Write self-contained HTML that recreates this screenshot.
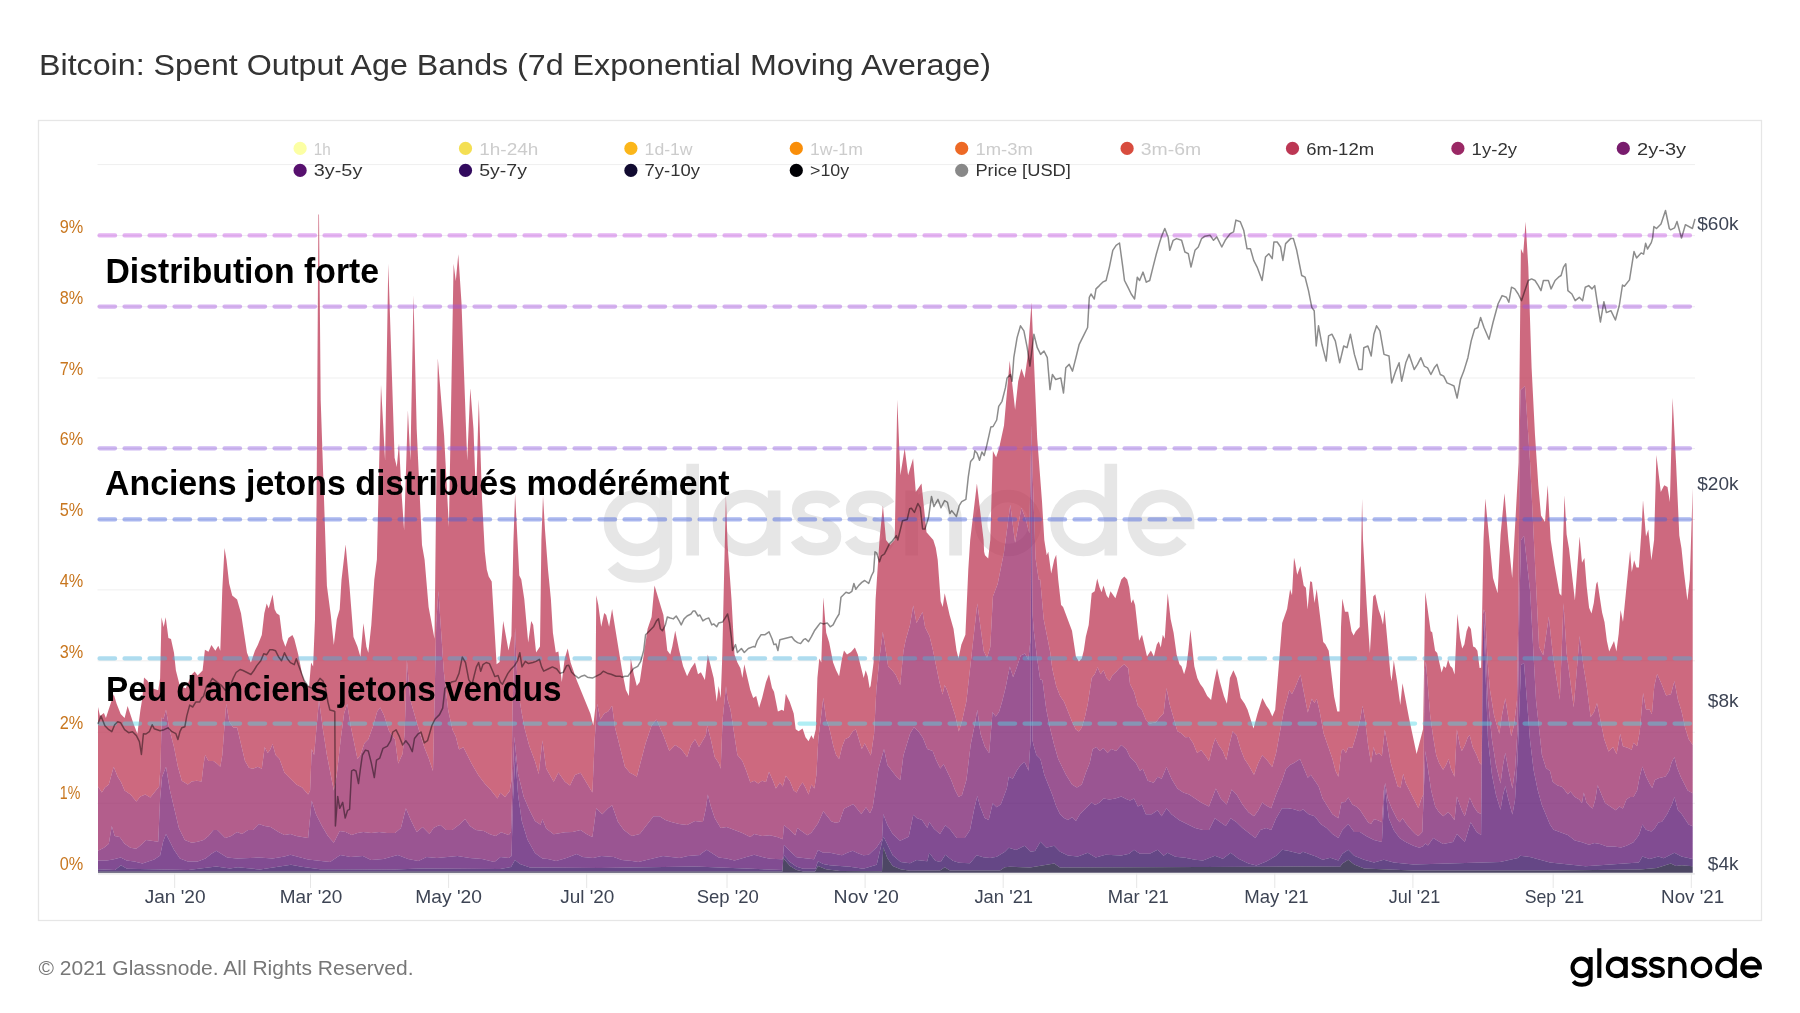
<!DOCTYPE html>
<html><head><meta charset="utf-8"><title>Bitcoin: Spent Output Age Bands</title>
<style>
html,body{margin:0;padding:0;background:#fff;}
body{width:1800px;height:1013px;overflow:hidden;position:relative;font-family:"Liberation Sans",sans-serif;}
svg{position:absolute;left:0;top:0;will-change:transform;}
</style></head><body>
<svg width="1800" height="1013" viewBox="0 0 1800 1013" font-family="Liberation Sans, sans-serif">
<text x="39" y="74.8" font-size="29.3" fill="#333" textLength="952" lengthAdjust="spacingAndGlyphs">Bitcoin: Spent Output Age Bands (7d Exponential Moving Average)</text>
<rect x="38.5" y="120.5" width="1723" height="800" fill="#fff" stroke="#e6e6e6" stroke-width="1.3"/>
<g stroke="#efefef" stroke-width="1"><line x1="97.5" x2="1695" y1="803.3" y2="803.3"/><line x1="97.5" x2="1695" y1="732.3" y2="732.3"/><line x1="97.5" x2="1695" y1="660.8" y2="660.8"/><line x1="97.5" x2="1695" y1="589.9" y2="589.9"/><line x1="97.5" x2="1695" y1="519.5" y2="519.5"/><line x1="97.5" x2="1695" y1="448.5" y2="448.5"/><line x1="97.5" x2="1695" y1="378.0" y2="378.0"/><line x1="97.5" x2="1695" y1="306.7" y2="306.7"/><line x1="97.5" x2="1695" y1="235.6" y2="235.6"/><line x1="97.5" x2="1695" y1="164.6" y2="164.6"/></g>
<line x1="98" x2="1695" y1="873.9" y2="873.9" stroke="#e6e6e6" stroke-width="1.3"/>
<g stroke="#e6e6e6" stroke-width="1"><line x1="174.7" x2="174.7" y1="873" y2="888"/><line x1="310.5" x2="310.5" y1="873" y2="888"/><line x1="448.6" x2="448.6" y1="873" y2="888"/><line x1="586.7" x2="586.7" y1="873" y2="888"/><line x1="727.0" x2="727.0" y1="873" y2="888"/><line x1="865.1" x2="865.1" y1="873" y2="888"/><line x1="1003.2" x2="1003.2" y1="873" y2="888"/><line x1="1136.7" x2="1136.7" y1="873" y2="888"/><line x1="1274.8" x2="1274.8" y1="873" y2="888"/><line x1="1412.9" x2="1412.9" y1="873" y2="888"/><line x1="1553.2" x2="1553.2" y1="873" y2="888"/><line x1="1691.3" x2="1691.3" y1="873" y2="888"/></g>
<defs><g id="gnlogo" fill="none" stroke-width="4.1">
<circle cx="1581.3" cy="967.4" r="8.75"/><path d="M1590.6,956.9 V978.5 C1590.6,983 1586.5,984.7 1582,984.7 C1578,984.7 1575.2,983.6 1573.4,981.2"/>
<path d="M1599.3,948.2 V977.9"/>
<circle cx="1616.6" cy="967.4" r="8.75"/><path d="M1625.7,956.9 V977.9"/>
<path d="M1645.4,961.6 C1644.2,959.6 1641.9,958.9 1639.4,958.9 C1635.9,958.9 1633.5,960.5 1633.5,963.1 C1633.5,966.1 1636.6,966.7 1639.4,967.3 C1642.7,968 1645.4,969 1645.4,971.8 C1645.4,974.6 1643,975.9 1639.4,975.9 C1636.5,975.9 1634.2,974.8 1632.9,972.6"/>
<path d="M1662.9,961.6 C1661.7,959.6 1659.4,958.9 1656.9,958.9 C1653.4,958.9 1651,960.5 1651,963.1 C1651,966.1 1654.1,966.7 1656.9,967.3 C1660.2,968 1662.9,969 1662.9,971.8 C1662.9,974.6 1660.5,975.9 1656.9,975.9 C1654,975.9 1651.7,974.8 1650.4,972.6"/>
<path d="M1670.3,977.9 V956.9 M1670.3,966.8 C1670.3,961.6 1673.3,958.9 1677.4,958.9 C1681.5,958.9 1684.5,961.6 1684.5,966.8 V977.9"/>
<circle cx="1701.5" cy="967.4" r="8.75"/>
<circle cx="1726" cy="967.4" r="8.75"/><path d="M1734.8,948.2 V977.9"/>
<path d="M1742.35,967.4 H1759.85 A8.75 8.75 0 1 0 1757.8,973.0"/>
</g></defs>
<use href="#gnlogo" stroke="#e6e6e6" transform="translate(-4242.8,-2462.4) scale(3.086)"/>
<polygon fill="#bc3754" fill-opacity="0.75" points="98.0,707.0 100.0,716.0 103.9,713.0 105.9,718.0 113.7,694.2 116.7,704.0 120.7,714.0 124.6,718.0 127.6,706.0 133.5,723.8 137.4,733.7 140.4,710.0 142.4,698.0 144.0,677.4 147.3,680.4 152.2,688.3 158.2,690.3 160.1,678.4 161.5,617.2 163.7,627.1 165.7,617.2 168.4,638.0 171.0,639.0 174.0,652.8 175.9,670.5 179.9,686.3 185.8,688.3 191.7,674.5 194.7,671.5 197.6,675.5 202.6,670.5 204.9,649.8 208.5,651.8 211.4,644.9 215.4,650.8 218.3,645.8 220.3,650.8 222.3,589.6 224.5,548.0 226.5,560.0 229.2,583.7 232.2,595.5 237.1,599.5 241.0,613.3 247.0,652.8 250.9,662.6 254.9,650.8 257.8,644.9 261.8,635.0 264.3,613.3 266.7,603.4 268.7,608.4 272.6,594.5 274.6,609.3 276.6,613.3 279.5,615.3 282.5,639.0 285.4,646.8 288.4,638.0 292.4,635.0 294.3,639.0 298.3,654.7 302.2,674.5 306.2,686.3 309.1,686.3 311.1,662.6 313.1,666.6 315.0,619.2 316.6,500.0 318.4,214.5 319.0,214.5 320.7,400.0 326.9,585.7 330.8,615.3 333.8,644.9 336.8,619.2 339.7,609.3 341.5,580.0 345.6,544.4 349.6,587.6 353.5,637.0 357.5,646.8 360.4,656.7 363.4,623.2 366.4,646.8 368.3,652.8 371.3,625.1 374.3,579.7 376.9,559.6 381.0,385.0 385.1,460.8 388.3,263.7 394.6,457.7 396.8,467.1 399.0,443.5 401.5,492.4 404.1,530.2 407.9,410.3 410.4,460.8 413.5,295.2 416.7,429.3 422.0,545.0 424.6,559.7 428.6,607.0 434.5,638.7 437.8,358.3 444.1,435.6 448.9,527.0 453.6,263.7 455.8,281.0 458.3,254.2 461.5,303.1 467.2,460.8 470.3,388.3 473.5,429.3 476.0,498.7 478.8,399.3 482.0,498.7 484.8,551.8 486.8,569.6 488.7,576.5 491.7,581.4 496.6,664.3 499.6,662.0 503.2,620.9 508.5,650.5 511.4,636.0 513.4,542.0 515.1,493.6 519.3,575.5 521.3,579.5 524.3,599.2 528.2,642.6 531.2,620.9 533.2,624.9 536.1,652.5 540.0,646.6 541.4,540.0 543.0,495.3 545.0,530.0 548.0,569.6 550.9,599.2 552.9,632.8 555.8,652.5 558.4,651.5 561.8,682.1 564.7,658.4 567.7,648.5 570.6,662.4 576.6,680.1 590.4,713.7 593.3,725.5 595.3,707.8 596.3,595.3 598.3,605.1 601.2,626.8 604.2,613.0 606.2,615.0 609.1,626.8 612.1,609.1 622.0,670.3 625.9,690.0 628.9,695.9 630.8,658.4 633.8,674.2 636.8,686.0 639.7,682.1 647.6,628.8 651.6,617.0 654.5,585.4 663.4,615.0 667.3,650.5 670.3,654.5 672.3,646.6 675.2,630.8 679.2,650.5 683.1,666.3 687.1,676.2 691.0,668.3 695.0,662.4 698.0,674.2 700.9,672.2 704.9,680.1 707.8,654.5 713.7,678.1 716.7,701.8 718.7,686.0 720.7,697.9 722.2,658.4 725.9,495.3 727.6,545.0 731.5,599.2 734.5,654.5 737.4,662.4 740.4,668.3 742.4,678.1 744.3,664.3 750.3,690.0 753.2,697.9 756.2,695.9 759.1,707.8 762.1,697.9 766.0,682.1 769.0,674.2 772.0,688.0 774.0,691.8 777.9,711.6 781.8,709.7 783.8,711.0 785.8,693.8 789.7,701.8 793.7,713.6 795.7,729.3 798.6,731.3 802.6,728.4 805.5,737.2 808.5,741.2 811.4,735.3 813.4,739.2 815.8,729.3 817.4,678.1 819.3,658.4 821.3,662.4 823.3,597.2 826.2,632.8 829.2,642.6 833.1,662.4 836.1,670.3 839.1,676.2 842.0,658.4 844.0,650.5 847.0,654.5 851.0,652.0 854.9,647.6 857.8,654.5 863.7,678.1 865.7,670.3 867.7,676.2 869.6,687.9 870.6,686.0 873.6,662.4 875.6,599.2 879.5,540.0 882.9,505.4 886.0,540.0 890.0,545.0 894.7,540.0 897.3,399.7 900.4,475.2 904.7,448.3 908.1,475.2 913.1,458.4 915.8,492.0 921.5,483.6 926.5,532.2 933.3,540.0 935.8,548.0 937.7,559.7 940.7,601.2 942.7,607.1 944.7,593.3 949.6,615.0 953.5,628.8 956.5,650.5 958.5,658.4 961.4,644.6 965.4,634.7 968.3,569.6 970.2,540.0 976.9,483.6 983.6,540.0 984.1,551.8 985.0,555.3 988.2,558.5 990.3,540.0 992.9,450.9 996.1,457.2 999.2,447.7 1004.0,425.6 1009.7,360.7 1015.1,409.7 1018.2,381.3 1021.4,368.6 1024.6,378.1 1027.7,355.9 1031.5,302.2 1037.2,438.2 1042.0,501.5 1044.3,540.0 1046.7,555.3 1048.3,551.8 1051.2,573.6 1054.2,559.7 1056.2,554.8 1058.2,579.5 1061.1,605.1 1063.1,607.1 1072.0,630.8 1075.9,656.4 1078.9,661.4 1081.8,658.4 1083.8,650.5 1085.8,636.7 1088.7,624.9 1091.7,593.3 1094.7,591.3 1097.2,578.5 1099.6,587.4 1101.6,592.3 1103.5,585.4 1106.5,595.3 1108.5,598.2 1110.5,591.3 1115.4,598.2 1121.3,579.5 1124.3,576.5 1127.2,579.5 1129.2,587.4 1131.2,603.2 1133.1,599.2 1135.1,605.1 1139.1,640.7 1142.0,634.7 1147.0,656.4 1150.9,650.5 1153.9,656.4 1156.8,644.6 1158.8,641.6 1160.8,647.6 1162.8,634.7 1164.7,638.7 1167.7,593.3 1170.6,618.9 1173.6,632.8 1176.6,654.5 1179.5,664.3 1181.5,666.3 1184.1,674.2 1186.4,666.3 1188.4,650.5 1190.4,629.8 1194.3,666.3 1197.3,678.1 1200.2,684.1 1203.2,688.0 1207.2,695.9 1211.1,699.9 1214.1,682.1 1217.0,668.3 1220.0,682.1 1223.9,695.9 1226.9,703.8 1229.9,678.1 1233.4,670.3 1236.8,678.1 1240.7,697.9 1244.7,703.8 1247.6,709.7 1253.5,728.5 1257.5,713.7 1262.4,697.9 1266.4,705.8 1269.3,709.7 1272.3,716.6 1275.2,709.7 1282.2,622.9 1287.1,609.1 1290.1,589.3 1292.0,595.3 1294.0,557.8 1295.0,561.7 1297.2,574.7 1300.4,566.1 1303.7,585.6 1305.9,587.8 1307.6,609.5 1310.2,581.3 1312.0,582.0 1314.5,603.0 1316.7,588.9 1323.2,642.1 1325.4,644.2 1328.7,650.7 1334.1,696.4 1337.3,711.6 1339.5,711.6 1341.0,626.9 1342.3,598.6 1345.0,611.7 1348.2,611.7 1351.5,631.2 1353.6,635.5 1355.8,631.2 1359.7,626.9 1362.1,498.7 1363.0,540.0 1366.7,605.1 1369.9,652.9 1373.2,596.5 1375.3,594.3 1378.6,609.5 1380.8,616.0 1383.0,624.7 1384.5,609.5 1390.5,674.6 1391.6,681.2 1393.8,660.5 1397.1,681.2 1400.3,705.0 1402.5,683.3 1409.0,718.1 1416.6,753.9 1423.1,728.9 1425.3,592.1 1430.7,631.2 1432.2,632.3 1435.1,650.7 1437.2,652.9 1441.6,672.5 1443.7,666.0 1445.9,668.1 1448.1,659.4 1450.3,666.0 1452.4,668.1 1454.6,674.6 1457.4,613.8 1460.0,637.7 1462.2,648.6 1464.4,644.2 1466.6,631.2 1468.7,625.8 1470.9,629.0 1473.1,646.4 1475.2,647.5 1477.4,650.7 1479.6,668.1 1481.1,667.7 1483.5,540.0 1485.3,498.5 1493.0,578.0 1497.6,593.3 1500.6,534.4 1504.5,493.3 1508.3,539.5 1512.2,578.0 1518.6,462.6 1520.9,248.7 1523.2,253.7 1525.6,221.8 1528.3,267.1 1531.6,367.8 1535.0,434.9 1538.3,485.2 1541.0,515.4 1545.0,522.1 1547.7,485.2 1550.6,539.5 1554.5,565.0 1559.5,593.5 1561.4,595.8 1564.5,495.3 1566.6,534.2 1569.0,548.4 1574.9,600.6 1579.6,536.6 1582.0,562.7 1584.4,557.9 1586.7,586.4 1589.1,607.7 1591.5,613.6 1593.8,602.9 1596.2,584.0 1597.4,581.6 1602.1,612.4 1604.5,621.9 1606.9,640.9 1609.2,651.5 1614.0,640.9 1616.4,651.5 1618.7,633.7 1620.6,610.0 1623.0,621.9 1630.1,550.8 1631.8,572.1 1634.1,560.3 1636.5,567.4 1638.9,567.4 1641.2,534.2 1643.0,500.3 1646.0,536.6 1648.3,529.5 1651.4,560.3 1654.1,540.0 1656.4,455.0 1660.8,491.9 1664.2,485.2 1667.5,486.9 1669.9,502.0 1672.6,398.0 1676.0,461.7 1679.3,535.6 1681.5,548.4 1683.9,572.1 1687.4,600.6 1689.8,579.2 1692.7,488.0 1692.7,745.0 1688.6,739.1 1685.1,727.6 1681.5,711.0 1678.0,700.1 1674.4,681.1 1670.9,694.2 1666.1,695.4 1661.4,683.5 1657.1,674.0 1654.3,685.9 1651.9,714.3 1649.5,709.6 1646.0,709.6 1643.1,693.0 1639.7,732.0 1637.1,746.2 1633.5,742.7 1631.7,749.8 1628.2,748.0 1622.9,746.2 1620.2,733.8 1616.6,754.2 1613.1,747.1 1608.6,751.5 1604.2,739.1 1597.0,703.0 1594.1,712.0 1590.6,717.0 1586.7,685.9 1583.2,664.5 1579.6,636.1 1573.7,707.2 1566.6,652.7 1563.5,602.9 1559.8,699.5 1552.9,655.3 1548.8,616.6 1543.2,655.3 1539.1,647.0 1530.1,462.6 1525.0,386.0 1520.5,390.0 1519.5,450.0 1518.5,600.0 1517.0,700.0 1514.0,725.0 1511.2,736.2 1505.3,698.3 1502.0,715.0 1499.3,733.8 1494.0,715.0 1490.0,690.0 1487.5,660.0 1485.2,612.0 1483.5,609.5 1481.6,764.9 1479.6,762.9 1476.6,755.0 1472.7,747.1 1469.7,735.3 1467.8,737.3 1464.8,745.2 1461.8,751.1 1459.9,745.2 1456.9,729.4 1454.5,776.7 1451.0,768.8 1448.6,759.0 1446.0,764.9 1443.1,769.8 1439.1,762.9 1436.2,755.0 1433.2,737.3 1430.2,715.5 1425.9,661.6 1424.6,670.3 1423.3,794.5 1421.4,798.5 1418.4,808.3 1405.6,782.7 1403.2,773.8 1400.6,787.6 1397.7,786.6 1390.8,762.9 1384.8,729.4 1381.9,756.0 1378.9,753.0 1376.0,755.0 1373.6,747.1 1371.0,762.9 1368.1,745.2 1365.1,719.5 1362.5,705.7 1360.2,719.5 1356.2,735.3 1352.3,748.1 1348.3,747.1 1345.9,753.0 1343.4,749.1 1341.4,751.1 1338.4,776.7 1335.5,770.8 1332.5,759.0 1323.6,733.3 1319.7,711.6 1316.7,698.8 1314.5,703.0 1311.8,698.8 1307.8,712.6 1300.4,674.6 1295.0,687.7 1292.0,693.9 1289.1,690.0 1287.9,695.8 1284.0,709.6 1276.1,753.0 1272.2,766.9 1266.2,759.0 1262.3,755.0 1258.3,762.9 1254.0,774.8 1248.5,764.9 1244.5,759.0 1240.6,749.1 1236.6,735.3 1232.7,731.3 1229.7,743.2 1226.3,760.0 1222.8,751.1 1218.8,745.2 1215.3,738.2 1212.9,745.2 1209.0,760.9 1205.0,755.0 1201.1,750.1 1197.1,753.0 1193.2,743.2 1189.0,737.0 1185.3,737.3 1181.3,733.3 1177.4,731.3 1169.5,703.7 1166.5,687.9 1163.6,713.6 1159.6,717.5 1155.7,722.4 1149.7,723.4 1145.8,719.5 1141.8,709.6 1137.9,705.7 1134.0,691.8 1130.0,684.0 1128.2,668.3 1124.3,664.3 1119.3,668.3 1116.0,672.0 1112.4,675.2 1109.5,681.1 1106.5,678.1 1103.5,670.3 1100.6,674.2 1097.6,667.3 1094.7,674.2 1091.7,678.1 1087.8,703.8 1084.8,717.6 1081.8,727.5 1078.9,731.4 1075.9,729.5 1072.0,721.6 1064.1,701.8 1060.1,695.9 1056.2,686.0 1052.2,668.3 1050.3,652.5 1043.7,619.2 1040.2,579.4 1038.8,580.0 1035.6,558.5 1032.5,470.0 1031.5,425.0 1029.3,533.2 1026.0,520.0 1021.4,507.8 1015.1,542.7 1010.3,504.7 1004.0,552.2 997.7,583.8 992.9,596.5 990.3,646.9 987.0,657.7 983.8,651.2 977.3,603.4 966.4,701.2 962.1,720.7 958.8,731.6 955.5,716.4 947.0,690.0 944.7,684.9 942.5,694.6 939.3,681.6 932.7,649.0 929.5,636.0 925.1,627.3 922.5,612.1 916.5,623.0 913.2,605.6 910.0,625.1 905.6,640.3 903.4,651.2 900.2,684.9 895.8,675.1 892.6,670.7 888.2,666.4 882.8,631.7 879.5,657.7 876.3,690.3 874.1,733.7 870.9,755.4 864.7,743.2 861.8,749.1 855.8,729.3 852.9,731.3 848.9,737.2 845.0,739.2 842.0,747.1 839.1,758.9 836.1,755.0 833.1,745.1 829.2,727.4 826.2,719.5 823.3,697.8 818.3,739.2 816.4,774.7 814.4,788.5 811.4,784.6 808.5,794.5 805.5,787.6 802.6,782.6 799.6,786.6 796.6,792.5 793.7,790.5 789.7,780.7 785.8,775.7 782.8,786.6 779.9,782.6 775.9,788.5 773.0,780.7 769.0,771.8 766.0,782.0 762.1,780.7 758.2,783.6 754.2,780.7 750.3,782.6 746.3,770.8 742.4,760.9 737.4,755.0 730.5,709.6 727.6,699.7 726.0,686.0 722.6,719.5 720.7,768.8 718.7,762.9 714.7,757.0 710.8,739.2 707.2,725.4 705.9,735.3 699.0,747.1 695.0,739.2 691.0,745.1 687.1,757.0 681.2,749.1 675.2,745.1 669.3,751.0 663.4,735.3 656.5,719.5 651.6,725.4 645.6,743.2 636.8,776.7 633.8,774.7 629.9,772.8 624.9,766.8 615.0,727.4 612.1,705.7 608.1,711.6 604.2,713.6 600.3,719.5 597.3,703.7 594.7,739.2 592.4,792.5 580.5,772.8 575.0,775.0 570.0,785.5 564.9,781.8 558.4,772.4 553.7,781.8 546.2,768.6 542.4,740.6 538.7,774.0 534.9,761.0 529.3,746.0 525.0,730.0 522.0,714.6 517.7,688.6 515.1,627.8 512.5,708.7 511.5,780.0 509.7,791.0 505.0,797.0 500.3,792.8 497.5,798.6 490.0,789.0 485.1,784.1 478.6,775.4 472.1,764.6 463.4,747.2 459.0,749.4 455.8,736.4 452.5,729.8 448.2,710.3 443.8,671.2 438.4,590.9 436.2,623.4 433.0,771.1 428.6,758.1 424.3,747.2 418.9,729.8 410.2,699.4 406.9,660.3 404.7,732.0 402.6,753.7 398.2,763.5 395.0,739.2 389.1,731.3 384.1,715.5 380.2,707.6 377.2,711.6 373.3,725.4 368.3,739.2 364.4,743.2 360.4,755.0 357.5,758.9 350.6,725.4 347.2,703.7 344.1,713.6 340.7,739.2 336.8,774.7 333.8,790.5 326.9,755.0 322.9,729.3 319.0,699.7 314.1,755.0 311.7,749.1 310.1,790.5 308.1,794.5 302.2,787.6 296.3,784.6 284.5,772.8 279.5,758.9 275.6,755.0 272.6,744.1 270.0,750.0 267.7,753.0 264.7,747.1 261.8,768.8 257.8,766.8 252.9,768.8 248.9,767.8 245.0,760.9 237.1,727.4 233.2,727.4 229.2,721.4 226.2,703.7 222.3,755.0 220.3,766.8 217.4,763.9 213.4,760.9 208.5,760.9 205.1,755.0 203.5,764.9 201.6,781.6 196.6,780.7 191.7,781.6 187.8,784.6 181.8,780.7 177.9,766.8 174.0,747.1 169.0,727.4 166.0,709.6 163.5,719.0 161.7,717.5 160.5,766.8 159.1,786.6 150.3,797.4 145.3,794.5 140.4,796.4 136.4,801.4 130.5,794.5 124.6,790.5 121.0,782.0 117.7,776.7 113.7,766.8 108.8,784.6 104.9,787.6 101.9,792.5 98.0,786.6"/>
<polygon fill="#9a2865" fill-opacity="0.75" points="98.0,786.6 101.9,792.5 104.9,787.6 108.8,784.6 113.7,766.8 117.7,776.7 121.0,782.0 124.6,790.5 130.5,794.5 136.4,801.4 140.4,796.4 145.3,794.5 150.3,797.4 159.1,786.6 160.5,766.8 161.7,717.5 163.5,719.0 166.0,709.6 169.0,727.4 174.0,747.1 177.9,766.8 181.8,780.7 187.8,784.6 191.7,781.6 196.6,780.7 201.6,781.6 203.5,764.9 205.1,755.0 208.5,760.9 213.4,760.9 217.4,763.9 220.3,766.8 222.3,755.0 226.2,703.7 229.2,721.4 233.2,727.4 237.1,727.4 245.0,760.9 248.9,767.8 252.9,768.8 257.8,766.8 261.8,768.8 264.7,747.1 267.7,753.0 270.0,750.0 272.6,744.1 275.6,755.0 279.5,758.9 284.5,772.8 296.3,784.6 302.2,787.6 308.1,794.5 310.1,790.5 311.7,749.1 314.1,755.0 319.0,699.7 322.9,729.3 326.9,755.0 333.8,790.5 336.8,774.7 340.7,739.2 344.1,713.6 347.2,703.7 350.6,725.4 357.5,758.9 360.4,755.0 364.4,743.2 368.3,739.2 373.3,725.4 377.2,711.6 380.2,707.6 384.1,715.5 389.1,731.3 395.0,739.2 398.2,763.5 402.6,753.7 404.7,732.0 406.9,660.3 410.2,699.4 418.9,729.8 424.3,747.2 428.6,758.1 433.0,771.1 436.2,623.4 438.4,590.9 443.8,671.2 448.2,710.3 452.5,729.8 455.8,736.4 459.0,749.4 463.4,747.2 472.1,764.6 478.6,775.4 485.1,784.1 490.0,789.0 497.5,798.6 500.3,792.8 505.0,797.0 509.7,791.0 511.5,780.0 512.5,708.7 515.1,627.8 517.7,688.6 522.0,714.6 525.0,730.0 529.3,746.0 534.9,761.0 538.7,774.0 542.4,740.6 546.2,768.6 553.7,781.8 558.4,772.4 564.9,781.8 570.0,785.5 575.0,775.0 580.5,772.8 592.4,792.5 594.7,739.2 597.3,703.7 600.3,719.5 604.2,713.6 608.1,711.6 612.1,705.7 615.0,727.4 624.9,766.8 629.9,772.8 633.8,774.7 636.8,776.7 645.6,743.2 651.6,725.4 656.5,719.5 663.4,735.3 669.3,751.0 675.2,745.1 681.2,749.1 687.1,757.0 691.0,745.1 695.0,739.2 699.0,747.1 705.9,735.3 707.2,725.4 710.8,739.2 714.7,757.0 718.7,762.9 720.7,768.8 722.6,719.5 726.0,686.0 727.6,699.7 730.5,709.6 737.4,755.0 742.4,760.9 746.3,770.8 750.3,782.6 754.2,780.7 758.2,783.6 762.1,780.7 766.0,782.0 769.0,771.8 773.0,780.7 775.9,788.5 779.9,782.6 782.8,786.6 785.8,775.7 789.7,780.7 793.7,790.5 796.6,792.5 799.6,786.6 802.6,782.6 805.5,787.6 808.5,794.5 811.4,784.6 814.4,788.5 816.4,774.7 818.3,739.2 823.3,697.8 826.2,719.5 829.2,727.4 833.1,745.1 836.1,755.0 839.1,758.9 842.0,747.1 845.0,739.2 848.9,737.2 852.9,731.3 855.8,729.3 861.8,749.1 864.7,743.2 870.9,755.4 874.1,733.7 876.3,690.3 879.5,657.7 882.8,631.7 888.2,666.4 892.6,670.7 895.8,675.1 900.2,684.9 903.4,651.2 905.6,640.3 910.0,625.1 913.2,605.6 916.5,623.0 922.5,612.1 925.1,627.3 929.5,636.0 932.7,649.0 939.3,681.6 942.5,694.6 944.7,684.9 947.0,690.0 955.5,716.4 958.8,731.6 962.1,720.7 966.4,701.2 977.3,603.4 983.8,651.2 987.0,657.7 990.3,646.9 992.9,596.5 997.7,583.8 1004.0,552.2 1010.3,504.7 1015.1,542.7 1021.4,507.8 1026.0,520.0 1029.3,533.2 1031.5,425.0 1032.5,470.0 1035.6,558.5 1038.8,580.0 1040.2,579.4 1043.7,619.2 1050.3,652.5 1052.2,668.3 1056.2,686.0 1060.1,695.9 1064.1,701.8 1072.0,721.6 1075.9,729.5 1078.9,731.4 1081.8,727.5 1084.8,717.6 1087.8,703.8 1091.7,678.1 1094.7,674.2 1097.6,667.3 1100.6,674.2 1103.5,670.3 1106.5,678.1 1109.5,681.1 1112.4,675.2 1116.0,672.0 1119.3,668.3 1124.3,664.3 1128.2,668.3 1130.0,684.0 1134.0,691.8 1137.9,705.7 1141.8,709.6 1145.8,719.5 1149.7,723.4 1155.7,722.4 1159.6,717.5 1163.6,713.6 1166.5,687.9 1169.5,703.7 1177.4,731.3 1181.3,733.3 1185.3,737.3 1189.0,737.0 1193.2,743.2 1197.1,753.0 1201.1,750.1 1205.0,755.0 1209.0,760.9 1212.9,745.2 1215.3,738.2 1218.8,745.2 1222.8,751.1 1226.3,760.0 1229.7,743.2 1232.7,731.3 1236.6,735.3 1240.6,749.1 1244.5,759.0 1248.5,764.9 1254.0,774.8 1258.3,762.9 1262.3,755.0 1266.2,759.0 1272.2,766.9 1276.1,753.0 1284.0,709.6 1287.9,695.8 1289.1,690.0 1292.0,693.9 1295.0,687.7 1300.4,674.6 1307.8,712.6 1311.8,698.8 1314.5,703.0 1316.7,698.8 1319.7,711.6 1323.6,733.3 1332.5,759.0 1335.5,770.8 1338.4,776.7 1341.4,751.1 1343.4,749.1 1345.9,753.0 1348.3,747.1 1352.3,748.1 1356.2,735.3 1360.2,719.5 1362.5,705.7 1365.1,719.5 1368.1,745.2 1371.0,762.9 1373.6,747.1 1376.0,755.0 1378.9,753.0 1381.9,756.0 1384.8,729.4 1390.8,762.9 1397.7,786.6 1400.6,787.6 1403.2,773.8 1405.6,782.7 1418.4,808.3 1421.4,798.5 1423.3,794.5 1424.6,670.3 1425.9,661.6 1430.2,715.5 1433.2,737.3 1436.2,755.0 1439.1,762.9 1443.1,769.8 1446.0,764.9 1448.6,759.0 1451.0,768.8 1454.5,776.7 1456.9,729.4 1459.9,745.2 1461.8,751.1 1464.8,745.2 1467.8,737.3 1469.7,735.3 1472.7,747.1 1476.6,755.0 1479.6,762.9 1481.6,764.9 1483.5,609.5 1485.2,612.0 1487.5,660.0 1490.0,690.0 1494.0,715.0 1499.3,733.8 1502.0,715.0 1505.3,698.3 1511.2,736.2 1514.0,725.0 1517.0,700.0 1518.5,600.0 1519.5,450.0 1520.5,390.0 1525.0,386.0 1530.1,462.6 1539.1,647.0 1543.2,655.3 1548.8,616.6 1552.9,655.3 1559.8,699.5 1563.5,602.9 1566.6,652.7 1573.7,707.2 1579.6,636.1 1583.2,664.5 1586.7,685.9 1590.6,717.0 1594.1,712.0 1597.0,703.0 1604.2,739.1 1608.6,751.5 1613.1,747.1 1616.6,754.2 1620.2,733.8 1622.9,746.2 1628.2,748.0 1631.7,749.8 1633.5,742.7 1637.1,746.2 1639.7,732.0 1643.1,693.0 1646.0,709.6 1649.5,709.6 1651.9,714.3 1654.3,685.9 1657.1,674.0 1661.4,683.5 1666.1,695.4 1670.9,694.2 1674.4,681.1 1678.0,700.1 1681.5,711.0 1685.1,727.6 1688.6,739.1 1692.7,745.0 1692.7,793.3 1687.7,790.6 1680.6,776.4 1677.1,767.5 1674.4,756.9 1671.7,762.2 1669.1,771.1 1665.5,776.4 1658.4,778.2 1654.9,780.0 1652.2,788.0 1649.5,783.5 1646.0,776.4 1642.4,766.6 1639.7,776.4 1637.1,790.6 1633.5,796.9 1630.0,796.9 1626.4,799.5 1622.9,808.4 1619.3,806.6 1615.8,810.2 1605.1,803.1 1597.6,785.3 1595.3,799.5 1592.7,808.4 1590.0,806.6 1586.4,802.2 1583.8,792.4 1582.0,803.1 1579.3,799.5 1574.9,796.9 1570.4,791.5 1567.8,794.2 1562.4,787.1 1557.1,785.3 1552.7,781.7 1550.0,771.1 1546.0,768.0 1541.9,754.8 1536.0,700.0 1530.1,591.0 1524.0,536.0 1521.0,540.0 1519.5,600.0 1517.5,730.0 1515.0,770.0 1512.4,788.4 1508.0,768.0 1505.3,752.8 1503.0,765.0 1500.5,783.6 1496.0,765.0 1492.0,740.0 1488.0,700.0 1485.2,640.0 1483.3,612.0 1481.1,814.0 1477.6,812.3 1473.7,806.4 1469.7,797.5 1464.8,816.2 1461.8,810.3 1456.9,796.5 1454.5,820.2 1451.0,815.0 1448.0,812.3 1443.1,816.2 1439.1,812.3 1435.2,806.4 1431.2,790.6 1425.3,751.1 1422.3,832.0 1418.4,836.0 1415.4,834.0 1411.5,830.0 1406.5,824.1 1402.6,818.2 1399.6,822.2 1396.7,818.2 1391.7,808.3 1387.8,798.5 1385.2,783.0 1383.8,790.6 1381.9,822.2 1377.9,820.2 1374.0,819.2 1371.0,824.1 1368.1,822.2 1360.2,810.3 1356.2,806.4 1352.3,804.4 1348.3,797.5 1345.0,802.0 1341.4,802.4 1338.4,818.2 1332.5,814.3 1322.6,798.5 1318.7,786.6 1310.8,774.8 1307.8,777.7 1300.0,759.0 1293.9,762.9 1289.9,764.9 1286.0,768.8 1282.0,780.7 1276.1,794.5 1271.2,808.3 1266.2,805.4 1262.3,802.4 1258.3,810.3 1254.0,816.2 1248.5,812.3 1242.5,804.4 1236.6,794.5 1231.7,789.6 1226.7,804.4 1220.8,798.5 1215.9,788.6 1209.0,806.4 1201.1,802.4 1189.2,794.5 1183.3,792.5 1177.4,788.6 1171.5,778.7 1166.5,766.9 1161.6,778.7 1157.6,776.7 1153.7,782.7 1147.8,780.7 1142.8,768.8 1139.9,770.8 1135.9,762.9 1130.0,757.0 1126.2,749.1 1121.3,745.1 1116.0,751.0 1111.4,749.1 1107.5,753.0 1103.5,748.1 1099.6,751.0 1096.6,747.1 1092.7,749.1 1089.7,762.9 1085.8,772.8 1081.8,784.6 1076.9,787.6 1072.0,784.6 1066.0,774.7 1058.2,758.9 1054.2,745.1 1050.3,729.3 1046.3,709.6 1042.4,680.0 1040.2,679.4 1037.0,657.7 1033.7,630.0 1032.4,611.4 1031.5,430.0 1030.8,629.1 1030.5,640.0 1028.3,659.9 1025.0,653.4 1020.7,655.5 1016.4,668.6 1013.1,677.3 1009.8,666.4 1005.5,688.1 1002.2,701.2 999.0,712.0 995.7,716.4 992.5,712.0 989.2,753.3 984.9,746.8 980.5,733.7 977.3,709.8 975.1,722.9 970.7,744.6 966.4,780.0 962.0,795.0 958.6,797.0 955.0,790.0 951.2,780.0 943.6,764.1 940.3,768.5 936.0,759.8 932.7,751.1 927.3,748.9 923.0,738.1 918.6,731.6 913.9,727.2 910.0,733.7 903.4,755.4 900.3,780.0 896.9,777.2 887.4,764.9 884.0,749.0 878.5,768.8 872.7,807.3 870.0,813.3 866.0,807.3 861.3,814.0 853.3,804.0 844.0,808.7 839.3,822.0 835.3,822.7 831.3,821.3 823.3,811.3 818.0,823.3 811.3,832.7 807.3,835.3 797.3,828.0 795.3,835.3 790.0,830.0 784.0,825.3 782.7,839.3 778.0,837.3 770.0,835.3 762.1,835.9 754.2,834.0 750.3,836.9 742.4,833.0 726.6,827.0 720.7,828.0 714.7,818.1 710.8,806.3 707.8,794.5 705.9,808.3 702.9,822.1 695.0,821.1 687.1,825.1 679.2,824.1 671.3,822.1 665.4,820.1 659.5,816.2 653.5,816.2 639.7,833.9 631.8,835.9 623.9,830.0 618.0,822.1 612.1,805.3 608.1,808.3 602.2,814.2 596.3,808.3 592.4,836.9 586.4,834.0 580.5,830.0 572.6,832.0 564.9,832.3 553.7,834.2 546.2,828.6 542.4,819.2 540.6,824.8 535.0,821.0 529.3,809.8 523.7,796.7 518.1,774.0 514.3,736.8 512.5,780.0 511.0,832.0 508.7,835.0 501.2,832.3 495.6,836.0 490.0,834.2 483.8,831.0 475.9,830.0 470.0,826.0 465.1,819.1 460.1,824.1 452.2,830.0 446.3,830.0 440.4,825.1 437.4,826.0 433.5,828.0 429.5,833.9 422.6,827.0 416.7,832.0 410.8,820.1 405.9,808.3 400.9,828.0 395.0,833.0 387.1,833.0 379.2,832.0 371.3,833.0 363.4,832.0 357.5,833.0 351.6,834.9 345.6,832.0 339.7,831.0 333.8,842.8 327.9,835.9 322.0,826.0 316.0,814.2 311.7,800.4 308.1,837.9 296.3,835.9 290.4,833.9 284.5,834.9 278.5,832.0 270.6,827.0 264.7,826.0 258.8,824.1 252.9,830.0 248.0,830.0 242.0,833.9 237.1,832.0 231.2,835.9 225.3,837.9 217.4,830.0 213.4,830.0 208.5,835.9 203.5,839.9 197.6,841.8 191.7,842.8 184.8,839.9 178.9,828.0 170.0,790.5 166.0,766.8 162.1,776.7 160.1,798.4 158.2,841.8 146.3,839.9 142.4,843.8 136.4,848.7 130.5,847.8 124.6,843.8 119.7,836.9 114.7,835.9 111.8,826.0 108.8,843.8 103.9,847.8 98.0,850.7"/>
<polygon fill="#781c6d" fill-opacity="0.75" points="98.0,850.7 103.9,847.8 108.8,843.8 111.8,826.0 114.7,835.9 119.7,836.9 124.6,843.8 130.5,847.8 136.4,848.7 142.4,843.8 146.3,839.9 158.2,841.8 160.1,798.4 162.1,776.7 166.0,766.8 170.0,790.5 178.9,828.0 184.8,839.9 191.7,842.8 197.6,841.8 203.5,839.9 208.5,835.9 213.4,830.0 217.4,830.0 225.3,837.9 231.2,835.9 237.1,832.0 242.0,833.9 248.0,830.0 252.9,830.0 258.8,824.1 264.7,826.0 270.6,827.0 278.5,832.0 284.5,834.9 290.4,833.9 296.3,835.9 308.1,837.9 311.7,800.4 316.0,814.2 322.0,826.0 327.9,835.9 333.8,842.8 339.7,831.0 345.6,832.0 351.6,834.9 357.5,833.0 363.4,832.0 371.3,833.0 379.2,832.0 387.1,833.0 395.0,833.0 400.9,828.0 405.9,808.3 410.8,820.1 416.7,832.0 422.6,827.0 429.5,833.9 433.5,828.0 437.4,826.0 440.4,825.1 446.3,830.0 452.2,830.0 460.1,824.1 465.1,819.1 470.0,826.0 475.9,830.0 483.8,831.0 490.0,834.2 495.6,836.0 501.2,832.3 508.7,835.0 511.0,832.0 512.5,780.0 514.3,736.8 518.1,774.0 523.7,796.7 529.3,809.8 535.0,821.0 540.6,824.8 542.4,819.2 546.2,828.6 553.7,834.2 564.9,832.3 572.6,832.0 580.5,830.0 586.4,834.0 592.4,836.9 596.3,808.3 602.2,814.2 608.1,808.3 612.1,805.3 618.0,822.1 623.9,830.0 631.8,835.9 639.7,833.9 653.5,816.2 659.5,816.2 665.4,820.1 671.3,822.1 679.2,824.1 687.1,825.1 695.0,821.1 702.9,822.1 705.9,808.3 707.8,794.5 710.8,806.3 714.7,818.1 720.7,828.0 726.6,827.0 742.4,833.0 750.3,836.9 754.2,834.0 762.1,835.9 770.0,835.3 778.0,837.3 782.7,839.3 784.0,825.3 790.0,830.0 795.3,835.3 797.3,828.0 807.3,835.3 811.3,832.7 818.0,823.3 823.3,811.3 831.3,821.3 835.3,822.7 839.3,822.0 844.0,808.7 853.3,804.0 861.3,814.0 866.0,807.3 870.0,813.3 872.7,807.3 878.5,768.8 884.0,749.0 887.4,764.9 896.9,777.2 900.3,780.0 903.4,755.4 910.0,733.7 913.9,727.2 918.6,731.6 923.0,738.1 927.3,748.9 932.7,751.1 936.0,759.8 940.3,768.5 943.6,764.1 951.2,780.0 955.0,790.0 958.6,797.0 962.0,795.0 966.4,780.0 970.7,744.6 975.1,722.9 977.3,709.8 980.5,733.7 984.9,746.8 989.2,753.3 992.5,712.0 995.7,716.4 999.0,712.0 1002.2,701.2 1005.5,688.1 1009.8,666.4 1013.1,677.3 1016.4,668.6 1020.7,655.5 1025.0,653.4 1028.3,659.9 1030.5,640.0 1030.8,629.1 1031.5,430.0 1032.4,611.4 1033.7,630.0 1037.0,657.7 1040.2,679.4 1042.4,680.0 1046.3,709.6 1050.3,729.3 1054.2,745.1 1058.2,758.9 1066.0,774.7 1072.0,784.6 1076.9,787.6 1081.8,784.6 1085.8,772.8 1089.7,762.9 1092.7,749.1 1096.6,747.1 1099.6,751.0 1103.5,748.1 1107.5,753.0 1111.4,749.1 1116.0,751.0 1121.3,745.1 1126.2,749.1 1130.0,757.0 1135.9,762.9 1139.9,770.8 1142.8,768.8 1147.8,780.7 1153.7,782.7 1157.6,776.7 1161.6,778.7 1166.5,766.9 1171.5,778.7 1177.4,788.6 1183.3,792.5 1189.2,794.5 1201.1,802.4 1209.0,806.4 1215.9,788.6 1220.8,798.5 1226.7,804.4 1231.7,789.6 1236.6,794.5 1242.5,804.4 1248.5,812.3 1254.0,816.2 1258.3,810.3 1262.3,802.4 1266.2,805.4 1271.2,808.3 1276.1,794.5 1282.0,780.7 1286.0,768.8 1289.9,764.9 1293.9,762.9 1300.0,759.0 1307.8,777.7 1310.8,774.8 1318.7,786.6 1322.6,798.5 1332.5,814.3 1338.4,818.2 1341.4,802.4 1345.0,802.0 1348.3,797.5 1352.3,804.4 1356.2,806.4 1360.2,810.3 1368.1,822.2 1371.0,824.1 1374.0,819.2 1377.9,820.2 1381.9,822.2 1383.8,790.6 1385.2,783.0 1387.8,798.5 1391.7,808.3 1396.7,818.2 1399.6,822.2 1402.6,818.2 1406.5,824.1 1411.5,830.0 1415.4,834.0 1418.4,836.0 1422.3,832.0 1425.3,751.1 1431.2,790.6 1435.2,806.4 1439.1,812.3 1443.1,816.2 1448.0,812.3 1451.0,815.0 1454.5,820.2 1456.9,796.5 1461.8,810.3 1464.8,816.2 1469.7,797.5 1473.7,806.4 1477.6,812.3 1481.1,814.0 1483.3,612.0 1485.2,640.0 1488.0,700.0 1492.0,740.0 1496.0,765.0 1500.5,783.6 1503.0,765.0 1505.3,752.8 1508.0,768.0 1512.4,788.4 1515.0,770.0 1517.5,730.0 1519.5,600.0 1521.0,540.0 1524.0,536.0 1530.1,591.0 1536.0,700.0 1541.9,754.8 1546.0,768.0 1550.0,771.1 1552.7,781.7 1557.1,785.3 1562.4,787.1 1567.8,794.2 1570.4,791.5 1574.9,796.9 1579.3,799.5 1582.0,803.1 1583.8,792.4 1586.4,802.2 1590.0,806.6 1592.7,808.4 1595.3,799.5 1597.6,785.3 1605.1,803.1 1615.8,810.2 1619.3,806.6 1622.9,808.4 1626.4,799.5 1630.0,796.9 1633.5,796.9 1637.1,790.6 1639.7,776.4 1642.4,766.6 1646.0,776.4 1649.5,783.5 1652.2,788.0 1654.9,780.0 1658.4,778.2 1665.5,776.4 1669.1,771.1 1671.7,762.2 1674.4,756.9 1677.1,767.5 1680.6,776.4 1687.7,790.6 1692.7,793.3 1692.7,826.2 1688.6,824.4 1681.5,813.7 1678.0,810.2 1674.4,796.9 1671.7,804.9 1669.9,808.5 1667.3,813.7 1662.0,821.7 1658.4,822.6 1654.9,828.0 1651.3,831.5 1646.0,829.7 1642.4,824.4 1638.9,835.1 1633.5,842.2 1626.4,845.7 1621.1,847.5 1614.0,846.6 1606.9,846.6 1600.0,844.0 1594.4,843.1 1589.1,844.8 1582.0,842.2 1574.9,840.4 1567.8,835.1 1553.6,829.7 1550.0,824.4 1541.9,805.0 1537.7,790.0 1533.6,770.0 1530.0,740.0 1524.0,663.0 1521.0,665.0 1517.5,760.0 1515.0,800.0 1512.4,814.5 1508.0,798.0 1505.3,786.0 1503.0,795.0 1500.5,809.7 1496.0,795.0 1492.0,775.0 1488.0,740.0 1483.3,613.0 1481.1,834.9 1476.6,832.0 1470.7,822.2 1464.8,841.9 1456.9,834.0 1453.0,841.9 1443.1,843.9 1433.2,838.0 1428.0,845.5 1425.3,843.5 1423.5,846.0 1419.4,847.8 1413.5,845.8 1405.6,841.9 1399.6,838.0 1393.7,830.0 1388.8,818.2 1384.8,786.0 1381.9,841.9 1374.0,839.9 1366.1,836.0 1360.0,832.0 1354.2,832.0 1348.3,824.1 1342.4,830.0 1338.4,838.0 1332.5,834.0 1326.6,828.1 1320.7,824.1 1314.7,816.2 1308.8,814.3 1302.9,809.3 1300.0,811.3 1293.9,809.3 1288.0,808.3 1282.0,808.3 1276.1,818.2 1271.2,830.0 1266.2,828.1 1260.3,830.0 1255.4,838.0 1242.5,828.1 1236.6,822.2 1230.7,818.2 1225.8,826.1 1214.9,818.2 1209.0,830.0 1203.0,830.0 1195.2,828.1 1179.4,820.2 1171.5,814.3 1166.5,808.3 1161.6,816.2 1157.6,810.3 1151.7,814.3 1145.8,814.3 1141.8,804.4 1137.9,806.4 1134.0,798.5 1130.0,800.4 1127.2,799.4 1121.3,796.4 1115.4,798.4 1109.5,799.4 1103.5,798.4 1099.6,802.4 1095.0,805.0 1091.7,802.4 1079.9,814.2 1075.9,821.1 1072.0,817.2 1068.0,820.1 1064.1,818.1 1060.1,814.2 1056.2,806.3 1052.2,794.5 1044.3,774.7 1040.4,758.9 1036.4,755.0 1033.5,745.1 1032.4,740.0 1031.5,430.0 1030.6,740.0 1028.6,770.8 1024.6,761.9 1020.7,764.9 1016.7,770.8 1012.8,778.7 1008.8,776.7 1006.8,788.5 1000.9,804.3 996.7,807.3 992.7,803.3 988.7,820.0 984.7,818.0 980.0,806.0 977.3,796.0 974.0,810.0 970.0,830.0 964.7,838.0 956.7,838.0 950.0,829.3 945.3,825.3 940.0,834.0 934.0,828.7 929.3,822.0 927.3,828.0 922.0,820.0 916.7,818.0 913.3,814.7 908.7,836.7 900.0,840.7 892.7,834.0 887.3,824.7 883.3,814.0 882.0,839.3 876.7,847.3 868.7,854.7 863.3,855.3 858.0,853.3 852.7,850.7 847.3,852.7 842.0,855.3 830.0,852.7 823.3,852.7 818.0,850.0 814.0,859.3 796.7,857.3 790.0,851.3 784.0,844.7 782.7,859.3 770.0,858.7 764.1,857.6 754.2,854.7 734.5,860.6 726.6,858.6 718.7,857.6 706.8,849.7 700.9,853.7 700.0,854.9 687.7,856.0 679.4,858.0 663.0,856.0 638.3,862.1 632.2,861.1 621.9,860.1 613.7,857.0 601.3,856.0 593.1,858.0 582.8,857.0 576.7,853.9 566.4,858.0 556.1,861.1 547.9,859.1 542.4,858.5 535.0,852.9 527.5,839.8 521.8,821.0 518.1,794.9 515.3,755.5 513.0,800.0 511.5,856.0 508.8,858.0 500.6,857.0 494.4,862.1 482.1,859.1 469.8,858.0 457.4,856.0 436.9,858.0 426.6,857.0 418.4,861.1 408.1,859.1 397.8,855.0 383.4,859.1 371.1,860.1 362.9,856.0 350.6,857.0 340.3,854.9 330.0,862.1 308.1,859.6 290.4,854.7 284.5,856.6 272.6,858.6 258.8,857.6 237.1,858.6 227.2,857.6 216.4,850.7 211.4,853.7 205.5,858.6 197.6,861.6 187.8,861.6 179.9,858.6 174.0,849.7 166.0,834.0 163.1,841.8 160.1,855.6 154.2,859.6 142.4,863.5 134.5,861.6 126.6,860.6 120.7,857.6 112.8,859.6 106.8,860.6 98.0,860.6"/>
<polygon fill="#57106e" fill-opacity="0.75" points="98.0,860.6 106.8,860.6 112.8,859.6 120.7,857.6 126.6,860.6 134.5,861.6 142.4,863.5 154.2,859.6 160.1,855.6 163.1,841.8 166.0,834.0 174.0,849.7 179.9,858.6 187.8,861.6 197.6,861.6 205.5,858.6 211.4,853.7 216.4,850.7 227.2,857.6 237.1,858.6 258.8,857.6 272.6,858.6 284.5,856.6 290.4,854.7 308.1,859.6 330.0,862.1 340.3,854.9 350.6,857.0 362.9,856.0 371.1,860.1 383.4,859.1 397.8,855.0 408.1,859.1 418.4,861.1 426.6,857.0 436.9,858.0 457.4,856.0 469.8,858.0 482.1,859.1 494.4,862.1 500.6,857.0 508.8,858.0 511.5,856.0 513.0,800.0 515.3,755.5 518.1,794.9 521.8,821.0 527.5,839.8 535.0,852.9 542.4,858.5 547.9,859.1 556.1,861.1 566.4,858.0 576.7,853.9 582.8,857.0 593.1,858.0 601.3,856.0 613.7,857.0 621.9,860.1 632.2,861.1 638.3,862.1 663.0,856.0 679.4,858.0 687.7,856.0 700.0,854.9 700.9,853.7 706.8,849.7 718.7,857.6 726.6,858.6 734.5,860.6 754.2,854.7 764.1,857.6 770.0,858.7 782.7,859.3 784.0,844.7 790.0,851.3 796.7,857.3 814.0,859.3 818.0,850.0 823.3,852.7 830.0,852.7 842.0,855.3 847.3,852.7 852.7,850.7 858.0,853.3 863.3,855.3 868.7,854.7 876.7,847.3 882.0,839.3 883.3,814.0 887.3,824.7 892.7,834.0 900.0,840.7 908.7,836.7 913.3,814.7 916.7,818.0 922.0,820.0 927.3,828.0 929.3,822.0 934.0,828.7 940.0,834.0 945.3,825.3 950.0,829.3 956.7,838.0 964.7,838.0 970.0,830.0 974.0,810.0 977.3,796.0 980.0,806.0 984.7,818.0 988.7,820.0 992.7,803.3 996.7,807.3 1000.9,804.3 1006.8,788.5 1008.8,776.7 1012.8,778.7 1016.7,770.8 1020.7,764.9 1024.6,761.9 1028.6,770.8 1030.6,740.0 1031.5,430.0 1032.4,740.0 1033.5,745.1 1036.4,755.0 1040.4,758.9 1044.3,774.7 1052.2,794.5 1056.2,806.3 1060.1,814.2 1064.1,818.1 1068.0,820.1 1072.0,817.2 1075.9,821.1 1079.9,814.2 1091.7,802.4 1095.0,805.0 1099.6,802.4 1103.5,798.4 1109.5,799.4 1115.4,798.4 1121.3,796.4 1127.2,799.4 1130.0,800.4 1134.0,798.5 1137.9,806.4 1141.8,804.4 1145.8,814.3 1151.7,814.3 1157.6,810.3 1161.6,816.2 1166.5,808.3 1171.5,814.3 1179.4,820.2 1195.2,828.1 1203.0,830.0 1209.0,830.0 1214.9,818.2 1225.8,826.1 1230.7,818.2 1236.6,822.2 1242.5,828.1 1255.4,838.0 1260.3,830.0 1266.2,828.1 1271.2,830.0 1276.1,818.2 1282.0,808.3 1288.0,808.3 1293.9,809.3 1300.0,811.3 1302.9,809.3 1308.8,814.3 1314.7,816.2 1320.7,824.1 1326.6,828.1 1332.5,834.0 1338.4,838.0 1342.4,830.0 1348.3,824.1 1354.2,832.0 1360.0,832.0 1366.1,836.0 1374.0,839.9 1381.9,841.9 1384.8,786.0 1388.8,818.2 1393.7,830.0 1399.6,838.0 1405.6,841.9 1413.5,845.8 1419.4,847.8 1423.5,846.0 1425.3,843.5 1428.0,845.5 1433.2,838.0 1443.1,843.9 1453.0,841.9 1456.9,834.0 1464.8,841.9 1470.7,822.2 1476.6,832.0 1481.1,834.9 1483.3,613.0 1488.0,740.0 1492.0,775.0 1496.0,795.0 1500.5,809.7 1503.0,795.0 1505.3,786.0 1508.0,798.0 1512.4,814.5 1515.0,800.0 1517.5,760.0 1521.0,665.0 1524.0,663.0 1530.0,740.0 1533.6,770.0 1537.7,790.0 1541.9,805.0 1550.0,824.4 1553.6,829.7 1567.8,835.1 1574.9,840.4 1582.0,842.2 1589.1,844.8 1594.4,843.1 1600.0,844.0 1606.9,846.6 1614.0,846.6 1621.1,847.5 1626.4,845.7 1633.5,842.2 1638.9,835.1 1642.4,824.4 1646.0,829.7 1651.3,831.5 1654.9,828.0 1658.4,822.6 1662.0,821.7 1667.3,813.7 1669.9,808.5 1671.7,804.9 1674.4,796.9 1678.0,810.2 1681.5,813.7 1688.6,824.4 1692.7,826.2 1692.7,859.1 1681.5,856.4 1674.4,852.8 1663.7,858.2 1658.4,856.4 1649.5,859.1 1642.4,856.4 1638.9,862.6 1585.5,866.2 1550.0,862.6 1530.0,857.0 1520.0,855.7 1518.0,858.0 1500.0,862.0 1413.5,864.6 1393.7,862.6 1383.8,859.7 1374.0,862.6 1364.1,859.7 1354.2,855.7 1348.3,849.8 1342.4,853.7 1338.4,860.6 1330.5,857.7 1322.6,859.7 1316.7,856.7 1302.9,851.8 1300.0,853.7 1288.0,850.8 1282.0,849.8 1276.1,855.7 1266.2,861.6 1256.4,865.6 1248.5,863.6 1238.6,858.7 1230.7,852.8 1222.8,858.7 1214.9,855.7 1203.0,860.6 1195.2,859.7 1185.3,857.7 1175.4,856.7 1167.5,852.8 1163.6,855.7 1157.6,849.8 1149.7,853.7 1139.9,853.7 1134.0,849.8 1129.2,853.7 1121.3,855.6 1105.5,854.7 1095.7,857.6 1087.8,852.7 1077.9,856.6 1068.0,855.6 1060.1,851.7 1054.2,845.8 1046.3,847.8 1040.4,841.8 1035.0,851.0 1030.5,851.7 1024.6,845.8 1016.0,850.0 1008.8,847.8 1004.9,851.7 996.7,856.7 990.0,858.0 983.3,857.3 976.7,855.3 970.0,863.3 959.3,862.7 952.7,860.7 945.3,854.7 940.7,862.0 935.3,860.7 929.3,852.7 927.3,861.3 916.7,860.0 910.0,863.3 900.7,862.0 892.7,855.3 883.6,836.7 882.0,842.0 876.7,864.7 863.3,868.7 850.0,866.7 830.0,865.3 823.3,864.0 818.0,861.3 815.3,868.7 803.3,868.7 796.7,866.7 790.0,862.0 784.0,855.3 783.8,857.6 783.3,858.0 782.5,870.0 695.0,866.5 600.0,868.0 530.0,867.5 520.0,864.0 515.0,860.0 511.0,867.0 500.0,869.0 420.0,868.5 395.0,869.5 320.0,869.3 301.7,866.7 291.0,864.7 260.0,869.5 237.7,867.3 230.0,868.5 216.3,866.4 188.3,870.0 127.0,868.7 121.0,865.3 115.0,870.0 98.0,869.3"/>
<polygon fill="#320a5e" fill-opacity="0.75" points="98.0,869.3 115.0,870.0 121.0,865.3 127.0,868.7 188.3,870.0 216.3,866.4 230.0,868.5 237.7,867.3 260.0,869.5 291.0,864.7 301.7,866.7 320.0,869.3 395.0,869.5 420.0,868.5 500.0,869.0 511.0,867.0 515.0,860.0 520.0,864.0 530.0,867.5 600.0,868.0 695.0,866.5 782.5,870.0 783.3,858.0 783.8,857.6 784.0,855.3 790.0,862.0 796.7,866.7 803.3,868.7 815.3,868.7 818.0,861.3 823.3,864.0 830.0,865.3 850.0,866.7 863.3,868.7 876.7,864.7 882.0,842.0 883.6,836.7 892.7,855.3 900.7,862.0 910.0,863.3 916.7,860.0 927.3,861.3 929.3,852.7 935.3,860.7 940.7,862.0 945.3,854.7 952.7,860.7 959.3,862.7 970.0,863.3 976.7,855.3 983.3,857.3 990.0,858.0 996.7,856.7 1004.9,851.7 1008.8,847.8 1016.0,850.0 1024.6,845.8 1030.5,851.7 1035.0,851.0 1040.4,841.8 1046.3,847.8 1054.2,845.8 1060.1,851.7 1068.0,855.6 1077.9,856.6 1087.8,852.7 1095.7,857.6 1105.5,854.7 1121.3,855.6 1129.2,853.7 1134.0,849.8 1139.9,853.7 1149.7,853.7 1157.6,849.8 1163.6,855.7 1167.5,852.8 1175.4,856.7 1185.3,857.7 1195.2,859.7 1203.0,860.6 1214.9,855.7 1222.8,858.7 1230.7,852.8 1238.6,858.7 1248.5,863.6 1256.4,865.6 1266.2,861.6 1276.1,855.7 1282.0,849.8 1288.0,850.8 1300.0,853.7 1302.9,851.8 1316.7,856.7 1322.6,859.7 1330.5,857.7 1338.4,860.6 1342.4,853.7 1348.3,849.8 1354.2,855.7 1364.1,859.7 1374.0,862.6 1383.8,859.7 1393.7,862.6 1413.5,864.6 1500.0,862.0 1518.0,858.0 1520.0,855.7 1530.0,857.0 1550.0,862.6 1585.5,866.2 1638.9,862.6 1642.4,856.4 1649.5,859.1 1658.4,856.4 1663.7,858.2 1674.4,852.8 1681.5,856.4 1692.7,859.1 1692.7,866.2 1681.5,865.3 1676.0,866.0 1670.8,863.5 1656.6,868.0 1640.0,869.5 1550.0,870.6 1413.5,870.5 1364.1,868.5 1354.2,864.6 1348.3,859.7 1342.4,863.6 1340.0,866.8 1295.0,866.6 1060.0,867.5 1054.2,863.5 1030.0,867.5 1010.0,866.7 1004.7,867.3 1000.0,870.5 950.0,870.5 944.7,867.3 940.0,870.5 910.0,870.7 900.7,869.3 892.7,866.0 887.3,858.0 883.3,847.3 882.0,871.3 840.0,871.0 826.0,869.3 818.0,866.0 815.0,871.6 803.3,871.6 796.7,870.0 790.0,866.0 783.3,858.0 782.5,871.5 98.0,871.6"/>
<polygon fill="#110a30" fill-opacity="0.75" points="98.0,871.6 782.5,871.5 783.3,858.0 790.0,866.0 796.7,870.0 803.3,871.6 815.0,871.6 818.0,866.0 826.0,869.3 840.0,871.0 882.0,871.3 883.3,847.3 887.3,858.0 892.7,866.0 900.7,869.3 910.0,870.7 940.0,870.5 944.7,867.3 950.0,870.5 1000.0,870.5 1004.7,867.3 1010.0,866.7 1030.0,867.5 1054.2,863.5 1060.0,867.5 1295.0,866.6 1340.0,866.8 1342.4,863.6 1348.3,859.7 1354.2,864.6 1364.1,868.5 1413.5,870.5 1550.0,870.6 1640.0,869.5 1656.6,868.0 1670.8,863.5 1676.0,866.0 1681.5,865.3 1692.7,866.2 1692.7,872.7 98.0,872.7"/>
<g stroke-width="4.2" stroke-linecap="round" stroke-dasharray="15.6 9.4" fill="none" stroke-opacity="0.45"><line x1="99.5" x2="1690" y1="235.4" y2="235.4" stroke="#c354e2"/><line x1="99.5" x2="1690" y1="306.6" y2="306.6" stroke="#a454de"/><line x1="99.5" x2="1690" y1="448.3" y2="448.3" stroke="#905de0"/><line x1="99.5" x2="1690" y1="519.4" y2="519.4" stroke="#425fdb"/><line x1="99.5" x2="1690" y1="658.4" y2="658.4" stroke="#4bb1db"/><line x1="99.5" x2="1690" y1="723.6" y2="723.6" stroke="#4fd9e6"/></g>
<polyline fill="none" stroke="#000" stroke-opacity="0.45" stroke-width="1.5" stroke-linejoin="round" points="98.0,723.8 100.9,715.9 104.9,725.8 108.8,729.7 111.8,731.7 114.7,724.8 117.7,721.8 120.7,722.8 124.6,729.7 128.6,732.7 132.5,731.7 136.4,735.6 139.4,741.6 141.4,754.4 143.4,733.7 146.0,734.0 149.3,731.7 152.2,724.8 154.2,728.7 160.1,730.7 164.1,729.7 168.0,727.8 172.0,731.7 175.9,733.7 177.9,739.6 179.9,731.7 181.8,727.8 184.8,726.8 186.8,715.9 189.7,705.1 192.7,707.0 195.7,702.1 199.6,702.1 201.6,698.1 203.5,696.2 206.5,686.3 209.5,683.3 212.4,678.4 217.4,682.4 221.3,685.3 225.3,690.3 229.2,688.3 233.2,678.4 236.1,672.5 240.1,669.5 243.0,670.5 247.0,672.5 250.9,674.5 253.9,670.5 256.8,665.6 260.8,660.7 263.7,653.7 266.7,654.7 269.7,649.8 272.6,649.8 275.6,650.8 278.5,656.7 281.5,660.7 284.5,652.8 287.4,658.7 290.4,662.6 294.3,664.6 296.3,658.7 298.3,664.6 301.2,672.5 304.2,680.4 308.1,686.3 312.1,688.3 316.0,684.3 320.0,678.4 323.0,681.0 325.9,690.3 327.9,702.1 329.9,710.0 333.8,711.0 334.8,711.6 335.4,826.0 337.7,796.4 339.7,808.3 342.7,802.4 345.2,818.1 347.6,810.3 349.6,809.3 351.6,770.8 353.5,769.8 356.0,771.0 358.5,783.6 360.4,768.8 362.4,755.0 365.4,750.1 368.3,751.0 371.3,762.9 374.3,777.6 376.5,760.2 379.8,758.1 383.0,748.3 387.4,746.1 390.6,740.7 392.8,732.0 396.1,729.8 399.3,736.4 402.6,745.0 405.8,740.7 409.1,745.0 412.3,751.6 414.5,738.5 417.8,734.2 421.0,732.0 424.3,742.9 427.5,740.7 431.9,725.5 435.1,719.0 439.5,714.6 442.7,708.1 444.9,688.6 447.1,686.4 451.4,682.1 455.8,681.0 459.0,673.4 462.3,657.1 465.5,662.5 468.8,679.9 472.1,684.2 474.2,675.5 476.4,666.9 478.6,662.5 480.7,671.2 482.9,664.7 486.2,662.5 489.4,663.6 492.7,671.2 494.9,676.6 498.1,675.5 500.3,682.1 502.5,684.2 504.6,679.9 507.9,673.4 511.2,669.0 514.4,665.8 517.7,660.3 519.8,652.7 522.0,666.9 525.3,661.4 528.5,663.6 532.9,662.5 536.1,661.4 539.4,659.3 541.6,666.9 543.7,671.2 548.1,669.0 552.4,666.9 556.8,669.0 560.0,673.4 563.3,672.3 566.5,665.8 568.7,665.3 571.6,672.2 574.6,675.2 578.5,678.1 581.5,676.2 584.5,675.2 587.4,677.2 592.4,678.1 596.3,676.2 600.3,674.2 603.2,671.2 607.2,673.2 611.1,674.2 616.0,676.2 620.0,676.2 622.0,677.2 624.9,676.2 627.9,676.2 630.8,672.2 633.8,668.3 637.7,666.3 640.7,661.4 643.7,650.5 645.6,634.7 647.6,632.8 650.6,629.8 653.5,626.8 656.5,620.9 658.5,618.9 660.4,628.8 662.4,630.8 665.4,624.9 667.3,617.0 670.3,618.0 673.3,618.9 676.2,616.0 679.2,620.9 681.2,624.9 684.1,618.9 687.1,616.0 691.0,614.0 693.0,611.1 695.0,611.0 698.0,616.0 699.9,615.0 702.9,620.9 705.9,618.9 708.8,618.0 711.8,624.9 713.7,623.9 716.7,626.8 718.7,622.9 722.6,621.9 724.6,618.9 727.6,614.0 729.5,622.9 731.5,638.7 732.5,650.5 735.5,644.6 737.4,652.5 741.4,648.5 744.3,652.5 748.3,648.5 753.2,646.6 755.0,647.0 757.2,640.7 761.1,634.7 765.1,634.7 769.0,631.8 772.0,638.7 773.9,644.6 776.0,644.0 777.9,650.5 779.9,639.7 783.8,638.7 787.8,637.7 791.7,636.7 794.7,640.7 797.6,642.6 800.6,643.6 803.5,639.7 805.5,638.7 808.5,641.6 811.4,636.7 814.4,630.8 817.4,626.8 820.3,622.9 823.3,623.9 827.2,622.9 830.2,626.8 833.1,624.9 836.1,618.9 839.1,614.0 841.0,597.2 843.0,595.3 846.0,592.3 848.9,593.3 851.9,591.3 853.9,583.4 855.8,589.3 858.8,585.4 861.8,582.4 864.7,580.5 868.7,583.4 871.6,575.5 873.6,571.6 875.0,551.8 876.6,552.8 879.5,561.7 881.5,555.8 884.5,553.8 889.4,543.9 892.4,541.0 896.3,535.6 897.8,540.0 902.5,520.7 907.2,519.5 909.6,508.8 911.4,508.3 914.4,512.4 917.9,503.5 920.3,507.7 922.6,529.0 925.0,529.0 928.6,517.1 931.5,496.4 933.9,506.5 938.0,499.4 941.0,507.7 944.6,500.6 947.5,502.3 949.9,513.6 951.7,510.6 956.4,516.5 959.4,505.3 961.7,501.7 965.9,499.4 968.3,476.9 970.6,461.5 973.6,457.9 974.8,450.8 977.1,453.2 979.5,460.3 981.9,452.0 984.2,455.5 986.6,446.1 989.0,435.4 990.8,427.1 993.1,426.5 996.7,420.0 998.7,406.4 1002.0,401.3 1005.4,387.9 1007.1,377.9 1010.4,374.5 1012.1,381.2 1013.8,357.7 1017.1,337.6 1020.5,325.8 1023.9,330.9 1027.2,347.7 1029.9,366.1 1033.9,334.2 1037.3,347.7 1040.6,354.4 1044.0,351.0 1047.3,357.7 1050.0,389.6 1052.4,374.5 1055.7,379.5 1060.8,377.9 1063.5,393.0 1065.8,367.8 1069.2,364.4 1072.5,371.1 1075.9,357.7 1079.2,344.3 1084.3,334.2 1087.6,327.5 1089.3,297.3 1091.0,294.0 1094.3,299.0 1096.0,288.9 1099.4,285.6 1102.7,282.2 1106.1,280.5 1109.4,267.1 1112.8,250.3 1116.1,245.3 1119.5,243.0 1122.8,267.1 1124.5,280.5 1127.9,287.2 1131.2,294.0 1134.6,299.0 1137.3,277.2 1139.6,280.5 1143.0,272.1 1146.3,282.2 1149.7,280.5 1153.0,267.1 1156.4,253.7 1159.8,241.9 1161.4,236.9 1164.8,228.5 1168.1,236.9 1169.8,250.3 1173.2,240.3 1176.5,238.6 1181.6,240.3 1184.9,252.0 1188.3,253.7 1191.0,267.1 1195.0,250.3 1198.3,247.0 1201.6,238.6 1205.0,236.2 1210.0,235.2 1213.5,240.3 1216.8,236.9 1221.8,247.0 1225.2,240.3 1230.2,233.6 1233.6,231.9 1235.9,220.1 1240.3,221.8 1243.7,230.2 1247.0,248.7 1250.4,248.7 1253.7,260.4 1257.1,267.1 1262.1,280.5 1265.5,257.0 1268.8,253.7 1272.2,258.7 1273.9,242.0 1277.2,242.0 1280.6,247.0 1282.9,260.4 1285.6,243.6 1290.6,238.6 1293.4,238.6 1296.7,250.3 1301.7,275.5 1305.1,277.2 1308.5,290.6 1311.8,307.4 1314.2,310.7 1316.2,346.0 1318.5,325.8 1321.9,344.3 1326.2,361.1 1328.6,335.9 1331.9,334.2 1335.3,340.9 1339.7,362.8 1343.7,346.0 1347.0,347.7 1350.4,334.2 1354.4,354.4 1358.8,369.5 1362.1,369.5 1363.8,347.7 1367.9,346.0 1371.2,356.0 1373.9,334.2 1376.6,325.8 1379.9,330.9 1384.0,354.4 1389.0,356.0 1391.7,382.9 1395.7,371.1 1399.1,362.8 1401.7,381.2 1405.8,362.8 1409.1,354.4 1414.2,369.5 1417.5,364.4 1420.9,357.7 1424.2,366.1 1427.6,367.8 1430.9,374.5 1434.3,367.8 1437.0,364.4 1440.3,374.5 1443.7,376.2 1447.0,382.9 1451.1,384.6 1454.0,386.0 1457.1,398.0 1460.5,379.5 1463.8,371.1 1467.9,357.7 1471.2,340.9 1474.6,329.2 1477.9,327.5 1480.6,317.4 1484.0,327.5 1489.0,339.3 1493.0,322.5 1498.0,304.0 1502.1,295.6 1506.4,297.3 1508.8,302.3 1511.5,287.2 1514.8,288.9 1518.2,294.0 1521.5,300.7 1524.9,290.6 1528.3,280.5 1531.6,278.9 1535.0,280.5 1538.3,285.6 1541.0,290.6 1543.4,280.5 1548.4,280.5 1551.1,288.9 1555.1,280.5 1558.5,277.2 1561.1,275.5 1563.5,267.1 1565.8,263.8 1567.9,290.6 1571.9,294.0 1575.2,300.7 1579.3,297.3 1582.6,300.7 1585.3,287.2 1588.7,285.6 1592.0,288.9 1594.7,285.6 1597.0,300.7 1600.4,322.0 1603.9,301.7 1606.4,312.6 1610.9,310.7 1615.4,320.0 1619.3,305.5 1622.5,285.0 1624.4,286.3 1629.5,279.9 1634.0,251.6 1636.6,258.0 1641.1,252.9 1643.6,254.2 1645.6,243.3 1647.5,249.0 1651.3,242.6 1652.6,238.1 1653.9,226.6 1656.5,228.5 1661.0,224.0 1665.5,210.5 1669.3,228.5 1670.6,229.8 1674.5,227.9 1677.0,221.5 1681.5,238.1 1685.4,224.7 1692.4,228.5 1695.0,218.9"/>
<g font-weight="bold" font-size="34.5" fill="#000">
<text x="105.5" y="283" textLength="273.5" lengthAdjust="spacingAndGlyphs">Distribution forte</text>
<text x="105" y="495.4" textLength="624.6" lengthAdjust="spacingAndGlyphs">Anciens jetons distribués modérément</text>
<text x="106" y="701" textLength="455.5" lengthAdjust="spacingAndGlyphs">Peu d&#39;anciens jetons vendus</text>
</g>
<g font-size="18.5" fill="#c8761e"><text x="59.8" y="870.1" textLength="23.5" lengthAdjust="spacingAndGlyphs">0%</text><text x="59.8" y="799.3" textLength="20.5" lengthAdjust="spacingAndGlyphs">1%</text><text x="59.8" y="728.5" textLength="23.5" lengthAdjust="spacingAndGlyphs">2%</text><text x="59.8" y="657.8" textLength="23.5" lengthAdjust="spacingAndGlyphs">3%</text><text x="59.8" y="587.0" textLength="23.5" lengthAdjust="spacingAndGlyphs">4%</text><text x="59.8" y="516.2" textLength="23.5" lengthAdjust="spacingAndGlyphs">5%</text><text x="59.8" y="445.4" textLength="23.5" lengthAdjust="spacingAndGlyphs">6%</text><text x="59.8" y="374.6" textLength="23.5" lengthAdjust="spacingAndGlyphs">7%</text><text x="59.8" y="303.9" textLength="23.5" lengthAdjust="spacingAndGlyphs">8%</text><text x="59.8" y="233.1" textLength="23.5" lengthAdjust="spacingAndGlyphs">9%</text></g>
<g font-size="19" fill="#3d4454" text-anchor="end">
<text x="1738.5" y="229.8">$60k</text><text x="1738.5" y="489.5">$20k</text><text x="1738.5" y="706.7">$8k</text><text x="1738.5" y="870.1">$4k</text>
</g>
<g font-size="18.2" fill="#3d4454"><text x="144.7" y="903.1" textLength="60.9" lengthAdjust="spacingAndGlyphs">Jan &#39;20</text><text x="279.8" y="903.1" textLength="62.6" lengthAdjust="spacingAndGlyphs">Mar &#39;20</text><text x="415.3" y="903.1" textLength="66.7" lengthAdjust="spacingAndGlyphs">May &#39;20</text><text x="560.2" y="903.1" textLength="54.2" lengthAdjust="spacingAndGlyphs">Jul &#39;20</text><text x="696.7" y="903.1" textLength="62.2" lengthAdjust="spacingAndGlyphs">Sep &#39;20</text><text x="833.6" y="903.1" textLength="65.3" lengthAdjust="spacingAndGlyphs">Nov &#39;20</text><text x="974.4" y="903.1" textLength="58.7" lengthAdjust="spacingAndGlyphs">Jan &#39;21</text><text x="1107.8" y="903.1" textLength="60.9" lengthAdjust="spacingAndGlyphs">Mar &#39;21</text><text x="1244.2" y="903.1" textLength="64.5" lengthAdjust="spacingAndGlyphs">May &#39;21</text><text x="1388.7" y="903.1" textLength="51.5" lengthAdjust="spacingAndGlyphs">Jul &#39;21</text><text x="1524.7" y="903.1" textLength="59.5" lengthAdjust="spacingAndGlyphs">Sep &#39;21</text><text x="1661.1" y="903.1" textLength="63.1" lengthAdjust="spacingAndGlyphs">Nov &#39;21</text></g>
<g font-size="17.2"><circle cx="300.1" cy="148.4" r="6.6" fill="#fcffa4"/><text x="313.8" y="154.5" fill="#ccc" textLength="17.0" lengthAdjust="spacingAndGlyphs">1h</text><circle cx="465.5" cy="148.4" r="6.6" fill="#f4df53"/><text x="479.2" y="154.5" fill="#ccc" textLength="59.2" lengthAdjust="spacingAndGlyphs">1h-24h</text><circle cx="630.9" cy="148.4" r="6.6" fill="#fbb61a"/><text x="644.6" y="154.5" fill="#ccc" textLength="48.0" lengthAdjust="spacingAndGlyphs">1d-1w</text><circle cx="796.3" cy="148.4" r="6.6" fill="#f98e09"/><text x="810.0" y="154.5" fill="#ccc" textLength="52.8" lengthAdjust="spacingAndGlyphs">1w-1m</text><circle cx="961.7" cy="148.4" r="6.6" fill="#ed6925"/><text x="975.4" y="154.5" fill="#ccc" textLength="57.4" lengthAdjust="spacingAndGlyphs">1m-3m</text><circle cx="1127.1" cy="148.4" r="6.6" fill="#d84c3e"/><text x="1140.8" y="154.5" fill="#ccc" textLength="60.4" lengthAdjust="spacingAndGlyphs">3m-6m</text><circle cx="1292.5" cy="148.4" r="6.6" fill="#bc3754"/><text x="1306.2" y="154.5" fill="#333" textLength="68.0" lengthAdjust="spacingAndGlyphs">6m-12m</text><circle cx="1457.9" cy="148.4" r="6.6" fill="#9a2865"/><text x="1471.6" y="154.5" fill="#333" textLength="45.4" lengthAdjust="spacingAndGlyphs">1y-2y</text><circle cx="1623.3" cy="148.4" r="6.6" fill="#781c6d"/><text x="1637.0" y="154.5" fill="#333" textLength="49.1" lengthAdjust="spacingAndGlyphs">2y-3y</text><circle cx="300.1" cy="170.4" r="6.6" fill="#57106e"/><text x="313.8" y="176.3" fill="#333" textLength="48.5" lengthAdjust="spacingAndGlyphs">3y-5y</text><circle cx="465.5" cy="170.4" r="6.6" fill="#320a5e"/><text x="479.2" y="176.3" fill="#333" textLength="47.7" lengthAdjust="spacingAndGlyphs">5y-7y</text><circle cx="630.9" cy="170.4" r="6.6" fill="#110a30"/><text x="644.6" y="176.3" fill="#333" textLength="55.4" lengthAdjust="spacingAndGlyphs">7y-10y</text><circle cx="796.3" cy="170.4" r="6.6" fill="#000004"/><text x="810.0" y="176.3" fill="#333" textLength="39.2" lengthAdjust="spacingAndGlyphs">&gt;10y</text><circle cx="961.7" cy="170.4" r="6.6" fill="#888888"/><text x="975.4" y="176.3" fill="#333" textLength="95.5" lengthAdjust="spacingAndGlyphs">Price [USD]</text></g>
<text x="38.5" y="975" font-size="20.5" fill="#777" textLength="375" lengthAdjust="spacingAndGlyphs">© 2021 Glassnode. All Rights Reserved.</text>
<use href="#gnlogo" stroke="#000"/>
</svg>
</body></html>
